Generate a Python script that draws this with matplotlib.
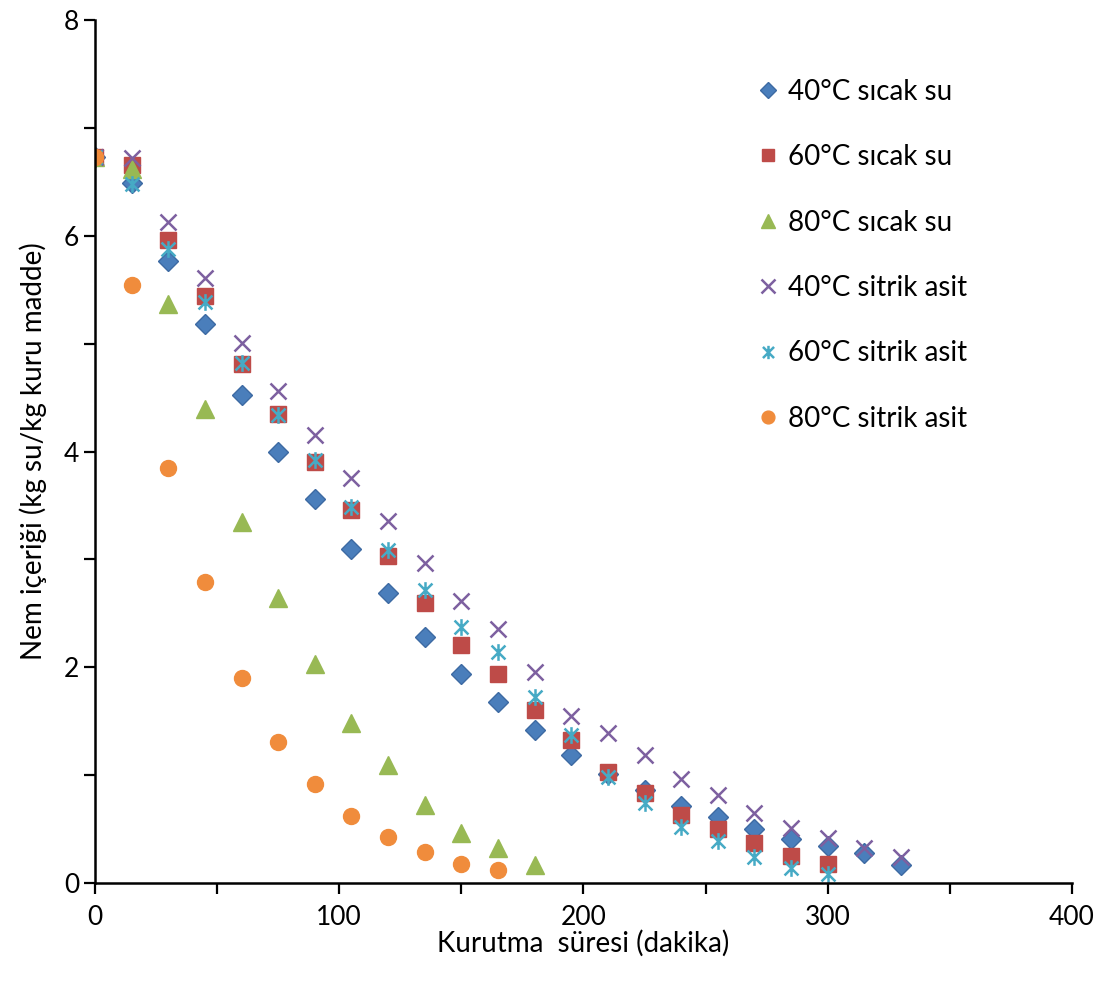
import matplotlib.pyplot as plt
import numpy as np
from matplotlib.path import Path

plt.rcParams['font.family'] = ['Lato', 'DejaVu Sans']

# drying time (min)
t_40su = [0, 15, 30, 45, 60, 75, 90, 105, 120, 135, 150, 165, 180, 195, 210, 225, 240, 255, 270, 285, 300, 315, 330]
m_40su = [6.73, 6.49, 5.77, 5.18, 4.52, 4.00, 3.56, 3.10, 2.69, 2.28, 1.94, 1.68, 1.42, 1.19, 1.01, 0.86, 0.71, 0.61, 0.50, 0.41, 0.34, 0.28, 0.17]

t_60su = [0, 15, 30, 45, 60, 75, 90, 105, 120, 135, 150, 165, 180, 195, 210, 225, 240, 255, 270, 285, 300]
m_60su = [6.73, 6.66, 5.96, 5.44, 4.81, 4.35, 3.90, 3.46, 3.03, 2.60, 2.21, 1.94, 1.60, 1.33, 1.03, 0.83, 0.63, 0.50, 0.37, 0.25, 0.18]

t_80su = [0, 15, 30, 45, 60, 75, 90, 105, 120, 135, 150, 165, 180]
m_80su = [6.73, 6.62, 5.37, 4.39, 3.35, 2.64, 2.03, 1.48, 1.09, 0.72, 0.46, 0.32, 0.17]

t_40sa = [0, 15, 30, 45, 60, 75, 90, 105, 120, 135, 150, 165, 180, 195, 210, 225, 240, 255, 270, 285, 300, 315, 330]
m_40sa = [6.73, 6.72, 6.13, 5.61, 5.01, 4.56, 4.15, 3.75, 3.36, 2.97, 2.61, 2.35, 1.96, 1.55, 1.39, 1.19, 0.96, 0.82, 0.65, 0.51, 0.42, 0.32, 0.24]

t_60sa = [0, 15, 30, 45, 60, 75, 90, 105, 120, 135, 150, 165, 180, 195, 210, 225, 240, 255, 270, 285, 300]
m_60sa = [6.73, 6.48, 5.88, 5.39, 4.82, 4.34, 3.92, 3.49, 3.09, 2.72, 2.37, 2.14, 1.72, 1.37, 0.98, 0.74, 0.52, 0.39, 0.24, 0.14, 0.08]

t_80sa = [0, 15, 30, 45, 60, 75, 90, 105, 120, 135, 150, 165]
m_80sa = [6.73, 5.54, 3.85, 2.79, 1.90, 1.31, 0.92, 0.62, 0.43, 0.29, 0.18, 0.12]

labels = ['40°C sıcak su', '60°C sıcak su', '80°C sıcak su',
          '40°C sitrik asit', '60°C sitrik asit', '80°C sitrik asit']

# excel style asterisk: X plus vertical bar
star = Path([(-1, -1), (1, 1), (-1, 1), (1, -1), (0, -1.2), (0, 1.2)],
            [Path.MOVETO, Path.LINETO, Path.MOVETO, Path.LINETO, Path.MOVETO, Path.LINETO])

fig = plt.figure(figsize=(11.11, 9.92), dpi=100)
ax = fig.add_axes([0.0855, 0.1099, 0.8794, 0.8699])

ax.plot(t_40su, m_40su, 'D', color='#4a7ebb', ms=10, mec='#3d6aa3', label=labels[0], ls='none')
ax.plot(t_60su, m_60su, 's', color='#be4b48', ms=11.5, label=labels[1], ls='none')
ax.plot(t_80su, m_80su, '^', color='#98b954', ms=13, label=labels[2], ls='none')
ax.plot(t_40sa, m_40sa, 'x', color='#7d60a0', ms=12, mew=1.8, label=labels[3], ls='none')
ax.plot(t_60sa, m_60sa, marker=star, color='#46aac5', ms=12, mew=1.8, label=labels[4], ls='none')
ax.plot(t_80sa, m_80sa, 'o', color='#f08c3c', ms=11.5, label=labels[5], ls='none')

ax.set_xlim(0, 400)
ax.set_ylim(0, 8)
ax.set_xticks(np.arange(0, 401, 100))
ax.set_yticks(np.arange(0, 9, 2))
ax.set_xticks(np.arange(50, 400, 100), minor=True)
ax.set_yticks(np.arange(1, 8, 2), minor=True)
ax.tick_params(which='both', direction='out', width=1.6, length=8, labelsize=19)
ax.tick_params(axis='x', pad=8)
ax.spines['top'].set_visible(False)
ax.spines['right'].set_visible(False)
ax.spines['left'].set_linewidth(1.8)
ax.spines['bottom'].set_linewidth(1.8)

ax.set_xlabel('Kurutma  süresi (dakika)', fontsize=20, labelpad=0)
ax.set_ylabel('Nem içeriği (kg su/kg kuru madde)', fontsize=20, labelpad=12)

leg = ax.legend(loc='upper left', bbox_to_anchor=(0.652, 0.961), frameon=False,
                fontsize=20, labelspacing=1.42, handlelength=0.8, handletextpad=0.3,
                markerscale=0.8)

fig.savefig('out.png', dpi=100)
